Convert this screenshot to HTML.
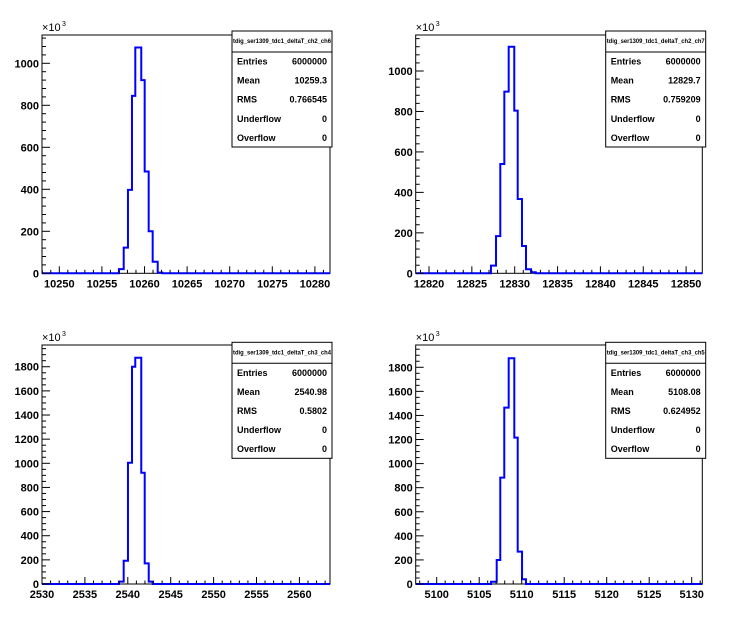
<!DOCTYPE html>
<html><head><meta charset="utf-8"><style>
html,body{margin:0;padding:0;background:#fff;}
svg{display:block;font-family:"Liberation Sans",Arial,sans-serif;}
</style></head><body>
<svg id="c" width="746" height="622" viewBox="0 0 746 622"></svg>
<script>
// Panel 1 data (counts in thousands)
const edges1 = [10257.0,10257.56,10258.06,10258.53,10258.92,10259.62,10260.02,10260.49,10260.96,10261.55,10262.09];
const counts1 = [20,122,397,845,1075,920,485,200,55,3];
const ticks1 = [10250,10255,10260,10265,10270,10275,10280];
const stats1 = ["6000000","10259.3","0.766545","0","0"];
// Panel 2
const edges2 = [12827.23,12827.82,12828.32,12828.79,12829.3,12829.95,12830.35,12830.85,12831.32,12831.9,12832.45];
const counts2 = [38,184,540,898,1120,804,367,135,20,5];
const ticks2 = [12820,12825,12830,12835,12840,12845,12850];
const stats2 = ["6000000","12829.7","0.759209","0","0"];
// Panel 3
const edges3 = [2538.97,2539.52,2540.02,2540.49,2540.87,2541.57,2541.97,2542.44,2542.9];
const counts3 = [20,193,1005,1800,1875,922,171,20];
const ticks3 = [2530,2535,2540,2545,2550,2555,2560];
const stats3 = ["6000000","2540.98","0.5802","0","0"];
// Panel 4
const edges4 = [5106.39,5107.06,5107.48,5107.95,5108.47,5109.13,5109.53,5110.04,5110.5];
const counts4 = [19,199,884,1465,1875,1216,269,39];
const ticks4 = [5100,5105,5110,5115,5120,5125,5130];
const stats4 = ["6000000","5108.08","0.624952","0","0"];

const NS="http://www.w3.org/2000/svg";
const svg=document.getElementById('c');
function mk(tag,attrs,parent){const e=document.createElementNS(NS,tag);for(const k in attrs)e.setAttribute(k,attrs[k]);(parent||svg).appendChild(e);return e;}

const panels=[
 {id:1,L:42,R:330,T:35,B:273.3,x0:10250,x0px:59.3,pxu:8.52,ypu:0.21,ymaj:200,ymin:40,yl:[0,200,400,600,800,1000],edges:edges1,counts:counts1,ticks:ticks1,stats:stats1,title:"tdig_ser1309_tdc1_deltaT_ch2_ch6",bx:232,by:31},
 {id:2,L:415.7,R:702.3,T:35,B:273.3,x0:12820,x0px:429,pxu:8.57,ypu:0.2023,ymaj:200,ymin:40,yl:[0,200,400,600,800,1000],edges:edges2,counts:counts2,ticks:ticks2,stats:stats2,title:"tdig_ser1309_tdc1_deltaT_ch2_ch7",bx:605.7,by:31},
 {id:3,L:42,R:330,T:345,B:584,x0:2530,x0px:42,pxu:8.58,ypu:0.1207,ymaj:200,ymin:50,yl:[0,200,400,600,800,1000,1200,1400,1600,1800],edges:edges3,counts:counts3,ticks:ticks3,stats:stats3,title:"tdig_ser1309_tdc1_deltaT_ch3_ch4",bx:232,by:342.3},
 {id:4,L:415.7,R:702.3,T:345,B:584,x0:5100,x0px:436.7,pxu:8.5,ypu:0.1204,ymaj:200,ymin:50,yl:[0,200,400,600,800,1000,1200,1400,1600,1800],edges:edges4,counts:counts4,ticks:ticks4,stats:stats4,title:"tdig_ser1309_tdc1_deltaT_ch3_ch5",bx:605.7,by:342.3}
];

panels.forEach(p=>{
 const g=mk('g',{});
 
 
 const xs=v=>p.x0px+(v-p.x0)*p.pxu;
 const ys=c=>p.B-c*p.ypu;
 const vL=p.x0+(p.L-p.x0px)/p.pxu, vR=p.x0+(p.R-p.x0px)/p.pxu;
 const ymax=(p.B-p.T)/p.ypu;
 // frame
 const fr=mk('rect',{x:p.L,y:p.T,width:p.R-p.L,height:p.B-p.T,fill:'#fff',stroke:'#000','stroke-width':1},g);
 
 
 // histogram
 let d='M'+p.L+','+p.B+' L'+xs(p.edges[0])+','+p.B;
 for(let i=0;i<p.counts.length;i++){
  d+=' L'+xs(p.edges[i])+','+ys(p.counts[i])+' L'+xs(p.edges[i+1])+','+ys(p.counts[i]);
 }
 d+=' L'+xs(p.edges[p.edges.length-1])+','+p.B+' L'+p.R+','+p.B;
 const h=mk('path',{d:d,fill:'none',stroke:'#0000ff','stroke-width':2},g);
 
 
 // x ticks
 const xa=mk('g',{stroke:'#000','stroke-width':1},g);
 
 
 for(let v=Math.ceil(vL);v<=vR;v++){
  const maj=(Math.round(v)%5===0);
  const x=xs(v);
  mk('line',{x1:x,x2:x,y1:p.B,y2:p.B-(maj?7:3.5)},xa);
 }
 p.ticks.forEach(t=>{
  const tx=mk('text',{x:xs(t),y:p.B+14,'text-anchor':'middle','font-size':11,'font-weight':'bold',fill:'#000'},g);
  tx.textContent=t;
  
  
 });
 // y ticks
 const ya=mk('g',{stroke:'#000','stroke-width':1},g);
 
 
 for(let c=0;c<=ymax;c+=p.ymin){
  const maj=(c%p.ymaj===0);
  const y=ys(c);
  mk('line',{x1:p.L,x2:p.L+(maj?8:4),y1:y,y2:y},ya);
 }
 p.yl.forEach(c=>{
  const ty=mk('text',{x:p.L-3,y:ys(c)+4,'text-anchor':'end','font-size':11,'font-weight':'bold',fill:'#000'},g);
  ty.textContent=c;
  
  
 });
 const ex=mk('text',{x:p.L,y:p.T-4,'font-size':11,fill:'#000'},g);
 ex.textContent='×10';
 
 
 const ex3=mk('text',{x:p.L+20,y:p.T-9,'font-size':7,fill:'#000'},g);
 ex3.textContent='3';
 
 
 // stats box
 const sb=mk('g',{},g);
 
 
 mk('rect',{x:p.bx,y:p.by,width:100,height:116,fill:'#fff',stroke:'#000','stroke-width':1},sb);
 mk('line',{x1:p.bx,x2:p.bx+100,y1:p.by+21,y2:p.by+21,stroke:'#000','stroke-width':1},sb);
 const tt=mk('text',{x:p.bx+50,y:p.by+12,'text-anchor':'middle','font-size':6,'font-weight':'bold',fill:'#000',textLength:98,lengthAdjust:'spacingAndGlyphs'},sb);
 tt.textContent=p.title;
 
 
 const names=["Entries","Mean","RMS","Underflow","Overflow"];
 names.forEach((n,i)=>{
  const y=p.by+33.5+i*19.1;
  const a=mk('text',{x:p.bx+5,y:y,'font-size':9,'font-weight':'bold',fill:'#000'},sb);
  a.textContent=n;
  
  
  const b=mk('text',{x:p.bx+95,y:y,'text-anchor':'end','font-size':9,'font-weight':'bold',fill:'#000'},sb);
  b.textContent=p.stats[i];
  
  
 });
});
</script>
</body></html>
